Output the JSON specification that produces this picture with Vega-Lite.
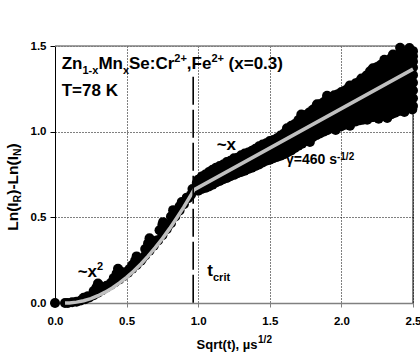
{
  "$schema": "https://vega.github.io/schema/vega-lite/v6.json",
  "width": 358,
  "height": 257,
  "autosize": {"type": "none"},
  "padding": {"left": 55, "top": 46, "right": 7, "bottom": 50},
  "background": "white",
  "config": {"view": {"stroke": null}, "font": "Liberation Sans"},
  "datasets": {
    "pts": [
      {"x":0,"y":0},{"x":0.07,"y":0},{"x":0.09,"y":0},{"x":0.12,"y":0.004},{"x":0.15,"y":0.008},{"x":0.18,"y":0.015},{"x":0.21,"y":0.022},{"x":0.24,"y":0.032},{"x":0.27,"y":0.045},{"x":0.3,"y":0.06},{"x":0.33,"y":0.075},{"x":0.36,"y":0.09},{"x":0.39,"y":0.105},{"x":0.42,"y":0.122},{"x":0.45,"y":0.138},{"x":0.48,"y":0.157},{"x":0.51,"y":0.177},{"x":0.54,"y":0.2},{"x":0.57,"y":0.222},{"x":0.6,"y":0.247},{"x":0.63,"y":0.277},{"x":0.66,"y":0.305},{"x":0.69,"y":0.335},{"x":0.72,"y":0.365},{"x":0.75,"y":0.395},{"x":0.78,"y":0.43},{"x":0.81,"y":0.465},{"x":0.84,"y":0.505},{"x":0.87,"y":0.54},{"x":0.9,"y":0.577},{"x":0.93,"y":0.612},{"x":0.95,"y":0.632},{"x":0.97,"y":0.655},
      {"x":0.2,"y":0.03},{"x":0.23,"y":0.04},
      {"x":0.27,"y":0.07},{"x":0.29,"y":0.092},{"x":0.31,"y":0.102},{"x":0.33,"y":0.09},{"x":0.3,"y":0.114},
      {"x":0.41,"y":0.145},{"x":0.43,"y":0.172},{"x":0.45,"y":0.188},{"x":0.47,"y":0.17},{"x":0.44,"y":0.2},
      {"x":0.54,"y":0.222},{"x":0.56,"y":0.248},{"x":0.58,"y":0.255},{"x":0.57,"y":0.272},
      {"x":0.63,"y":0.315},{"x":0.65,"y":0.348},{"x":0.67,"y":0.362},{"x":0.69,"y":0.345},{"x":0.66,"y":0.378},
      {"x":0.73,"y":0.425},{"x":0.75,"y":0.458},{"x":0.77,"y":0.458},{"x":0.755,"y":0.472},
      {"x":0.81,"y":0.505},{"x":0.83,"y":0.53},{"x":0.825,"y":0.542},
      {"x":0.87,"y":0.565},{"x":0.89,"y":0.58},{"x":0.885,"y":0.59},
      {"x":0.36,"y":0.1},{"x":0.39,"y":0.117},{"x":0.49,"y":0.18},{"x":0.52,"y":0.198},{"x":0.61,"y":0.26},{"x":0.71,"y":0.365},{"x":0.79,"y":0.45},{"x":0.86,"y":0.535},{"x":0.92,"y":0.615},{"x":0.96,"y":0.665},{"x":0.99,"y":0.7},
      {"x":1.0,"y":0.655},{"x":1.0,"y":0.69},{"x":1.0,"y":0.72},
      {"x":1.025,"y":0.665},{"x":1.025,"y":0.7},{"x":1.025,"y":0.738},
      {"x":1.05,"y":0.672},{"x":1.05,"y":0.712},{"x":1.05,"y":0.75},
      {"x":1.075,"y":0.68},{"x":1.075,"y":0.722},{"x":1.075,"y":0.765},
      {"x":1.1,"y":0.69},{"x":1.1,"y":0.733},{"x":1.1,"y":0.778},
      {"x":1.125,"y":0.703},{"x":1.125,"y":0.745},{"x":1.125,"y":0.79},
      {"x":1.15,"y":0.712},{"x":1.15,"y":0.755},{"x":1.15,"y":0.8},
      {"x":1.175,"y":0.722},{"x":1.175,"y":0.765},{"x":1.175,"y":0.808},
      {"x":1.2,"y":0.73},{"x":1.2,"y":0.775},{"x":1.2,"y":0.823},
      {"x":1.225,"y":0.74},{"x":1.225,"y":0.785},{"x":1.225,"y":0.83},
      {"x":1.25,"y":0.748},{"x":1.25,"y":0.795},{"x":1.25,"y":0.845},
      {"x":1.275,"y":0.757},{"x":1.275,"y":0.802},{"x":1.275,"y":0.848},
      {"x":1.3,"y":0.765},{"x":1.3,"y":0.81},{"x":1.3,"y":0.862},
      {"x":1.325,"y":0.772},{"x":1.325,"y":0.82},{"x":1.325,"y":0.872},
      {"x":1.35,"y":0.782},{"x":1.35,"y":0.83},{"x":1.35,"y":0.878},
      {"x":1.375,"y":0.79},{"x":1.375,"y":0.84},{"x":1.375,"y":0.888},
      {"x":1.4,"y":0.8},{"x":1.4,"y":0.85},{"x":1.4,"y":0.9},
      {"x":1.425,"y":0.808},{"x":1.425,"y":0.86},{"x":1.425,"y":0.915},
      {"x":1.45,"y":0.82},{"x":1.45,"y":0.87},{"x":1.45,"y":0.925},
      {"x":1.475,"y":0.83},{"x":1.475,"y":0.88},{"x":1.475,"y":0.932},
      {"x":1.5,"y":0.836},{"x":1.5,"y":0.876},{"x":1.5,"y":0.912},{"x":1.5,"y":0.945},
      {"x":1.525,"y":0.845},{"x":1.525,"y":0.885},{"x":1.525,"y":0.92},{"x":1.525,"y":0.952},
      {"x":1.55,"y":0.852},{"x":1.55,"y":0.895},{"x":1.55,"y":0.93},{"x":1.55,"y":0.962},
      {"x":1.575,"y":0.86},{"x":1.575,"y":0.9},{"x":1.575,"y":0.94},{"x":1.575,"y":0.978},
      {"x":1.6,"y":0.868},{"x":1.6,"y":0.91},{"x":1.6,"y":0.95},{"x":1.6,"y":0.99},
      {"x":1.625,"y":0.88},{"x":1.625,"y":0.92},{"x":1.625,"y":0.96},{"x":1.625,"y":1.008},
      {"x":1.65,"y":0.89},{"x":1.65,"y":0.93},{"x":1.65,"y":0.97},{"x":1.65,"y":1.0},{"x":1.65,"y":1.035},
      {"x":1.675,"y":0.905},{"x":1.675,"y":0.945},{"x":1.675,"y":0.985},{"x":1.675,"y":1.045},
      {"x":1.7,"y":0.918},{"x":1.7,"y":0.955},{"x":1.7,"y":0.995},{"x":1.7,"y":1.035},{"x":1.7,"y":1.068},
      {"x":1.725,"y":0.93},{"x":1.725,"y":0.97},{"x":1.725,"y":1.01},{"x":1.725,"y":1.05},{"x":1.725,"y":1.085},
      {"x":1.75,"y":0.945},{"x":1.75,"y":0.985},{"x":1.75,"y":1.025},{"x":1.75,"y":1.065},{"x":1.75,"y":1.098},
      {"x":1.775,"y":0.955},{"x":1.775,"y":0.995},{"x":1.775,"y":1.035},{"x":1.775,"y":1.075},{"x":1.775,"y":1.112},
      {"x":1.8,"y":0.968},{"x":1.8,"y":1.005},{"x":1.8,"y":1.045},{"x":1.8,"y":1.085},{"x":1.8,"y":1.128},
      {"x":1.825,"y":0.98},{"x":1.825,"y":1.02},{"x":1.825,"y":1.06},{"x":1.825,"y":1.1},{"x":1.825,"y":1.148},
      {"x":1.85,"y":0.99},{"x":1.85,"y":1.03},{"x":1.85,"y":1.07},{"x":1.85,"y":1.11},{"x":1.85,"y":1.16},
      {"x":1.875,"y":1.0},{"x":1.875,"y":1.04},{"x":1.875,"y":1.08},{"x":1.875,"y":1.12},{"x":1.875,"y":1.172},
      {"x":1.9,"y":1.008},{"x":1.9,"y":1.045},{"x":1.9,"y":1.085},{"x":1.9,"y":1.125},{"x":1.9,"y":1.16},{"x":1.9,"y":1.195},
      {"x":1.925,"y":1.018},{"x":1.925,"y":1.055},{"x":1.925,"y":1.095},{"x":1.925,"y":1.135},{"x":1.925,"y":1.17},{"x":1.925,"y":1.2},
      {"x":1.95,"y":1.022},{"x":1.95,"y":1.06},{"x":1.95,"y":1.1},{"x":1.95,"y":1.14},{"x":1.95,"y":1.18},{"x":1.95,"y":1.212},
      {"x":1.975,"y":1.027},{"x":1.975,"y":1.065},{"x":1.975,"y":1.105},{"x":1.975,"y":1.145},{"x":1.975,"y":1.185},{"x":1.975,"y":1.218},
      {"x":2.0,"y":1.032},{"x":2.0,"y":1.07},{"x":2.0,"y":1.11},{"x":2.0,"y":1.15},{"x":2.0,"y":1.19},{"x":2.0,"y":1.232},
      {"x":2.025,"y":1.04},{"x":2.025,"y":1.08},{"x":2.025,"y":1.12},{"x":2.025,"y":1.16},{"x":2.025,"y":1.2},{"x":2.025,"y":1.24},
      {"x":2.05,"y":1.046},{"x":2.05,"y":1.085},{"x":2.05,"y":1.125},{"x":2.05,"y":1.165},{"x":2.05,"y":1.21},{"x":2.05,"y":1.256},
      {"x":2.075,"y":1.055},{"x":2.075,"y":1.095},{"x":2.075,"y":1.135},{"x":2.075,"y":1.175},{"x":2.075,"y":1.22},{"x":2.075,"y":1.262},
      {"x":2.1,"y":1.06},{"x":2.1,"y":1.1},{"x":2.1,"y":1.14},{"x":2.1,"y":1.18},{"x":2.1,"y":1.22},{"x":2.1,"y":1.255},{"x":2.1,"y":1.282},
      {"x":2.125,"y":1.066},{"x":2.125,"y":1.105},{"x":2.125,"y":1.145},{"x":2.125,"y":1.185},{"x":2.125,"y":1.225},{"x":2.125,"y":1.262},{"x":2.125,"y":1.292},
      {"x":2.15,"y":1.07},{"x":2.15,"y":1.11},{"x":2.15,"y":1.15},{"x":2.15,"y":1.19},{"x":2.15,"y":1.23},{"x":2.15,"y":1.27},{"x":2.15,"y":1.305},
      {"x":2.175,"y":1.078},{"x":2.175,"y":1.12},{"x":2.175,"y":1.16},{"x":2.175,"y":1.2},{"x":2.175,"y":1.24},{"x":2.175,"y":1.28},{"x":2.175,"y":1.328},
      {"x":2.2,"y":1.082},{"x":2.2,"y":1.12},{"x":2.2,"y":1.16},{"x":2.2,"y":1.2},{"x":2.2,"y":1.24},{"x":2.2,"y":1.28},{"x":2.2,"y":1.32},{"x":2.2,"y":1.352},
      {"x":2.225,"y":1.085},{"x":2.225,"y":1.125},{"x":2.225,"y":1.165},{"x":2.225,"y":1.205},{"x":2.225,"y":1.245},{"x":2.225,"y":1.285},{"x":2.225,"y":1.325},{"x":2.225,"y":1.362},
      {"x":2.25,"y":1.088},{"x":2.25,"y":1.13},{"x":2.25,"y":1.17},{"x":2.25,"y":1.21},{"x":2.25,"y":1.25},{"x":2.25,"y":1.29},{"x":2.25,"y":1.335},{"x":2.25,"y":1.378},
      {"x":2.275,"y":1.09},{"x":2.275,"y":1.13},{"x":2.275,"y":1.17},{"x":2.275,"y":1.21},{"x":2.275,"y":1.255},{"x":2.275,"y":1.3},{"x":2.275,"y":1.345},{"x":2.275,"y":1.39},
      {"x":2.3,"y":1.092},{"x":2.3,"y":1.135},{"x":2.3,"y":1.175},{"x":2.3,"y":1.215},{"x":2.3,"y":1.26},{"x":2.3,"y":1.305},{"x":2.3,"y":1.355},{"x":2.3,"y":1.402},
      {"x":2.325,"y":1.097},{"x":2.325,"y":1.14},{"x":2.325,"y":1.18},{"x":2.325,"y":1.225},{"x":2.325,"y":1.27},{"x":2.325,"y":1.315},{"x":2.325,"y":1.365},{"x":2.325,"y":1.415},
      {"x":2.35,"y":1.102},{"x":2.35,"y":1.145},{"x":2.35,"y":1.19},{"x":2.35,"y":1.235},{"x":2.35,"y":1.28},{"x":2.35,"y":1.325},{"x":2.35,"y":1.375},{"x":2.35,"y":1.432},
      {"x":2.375,"y":1.11},{"x":2.375,"y":1.155},{"x":2.375,"y":1.2},{"x":2.375,"y":1.245},{"x":2.375,"y":1.29},{"x":2.375,"y":1.335},{"x":2.375,"y":1.385},{"x":2.375,"y":1.44},
      {"x":2.4,"y":1.12},{"x":2.4,"y":1.165},{"x":2.4,"y":1.21},{"x":2.4,"y":1.255},{"x":2.4,"y":1.3},{"x":2.4,"y":1.345},{"x":2.4,"y":1.395},{"x":2.4,"y":1.452},
      {"x":2.425,"y":1.125},{"x":2.425,"y":1.17},{"x":2.425,"y":1.215},{"x":2.425,"y":1.26},{"x":2.425,"y":1.305},{"x":2.425,"y":1.35},{"x":2.425,"y":1.4},{"x":2.425,"y":1.448},
      {"x":2.45,"y":1.132},{"x":2.45,"y":1.175},{"x":2.45,"y":1.22},{"x":2.45,"y":1.265},{"x":2.45,"y":1.31},{"x":2.45,"y":1.355},{"x":2.45,"y":1.405},{"x":2.45,"y":1.455},
      {"x":2.475,"y":1.14},{"x":2.475,"y":1.185},{"x":2.475,"y":1.23},{"x":2.475,"y":1.275},{"x":2.475,"y":1.32},{"x":2.475,"y":1.365},{"x":2.475,"y":1.405},{"x":2.475,"y":1.445},
      {"x":2.5,"y":1.15},{"x":2.5,"y":1.195},{"x":2.5,"y":1.24},{"x":2.5,"y":1.285},{"x":2.5,"y":1.33},{"x":2.5,"y":1.375},{"x":2.5,"y":1.41},{"x":2.5,"y":1.44},
      {"x":2.41,"y":1.49},{"x":2.475,"y":1.488},{"x":2.5,"y":1.47},{"x":2.495,"y":1.13},{"x":2.18,"y":1.07},
      {"x":1.62,"y":1.02},{"x":1.72,"y":1.1},{"x":1.83,"y":1.16},{"x":1.9,"y":1.21},{"x":2.06,"y":1.27},{"x":2.14,"y":1.31},{"x":2.22,"y":1.37},{"x":2.3,"y":1.42},{"x":2.36,"y":1.45},
      {"x":1.78,"y":0.94},{"x":1.96,"y":1.01},{"x":2.06,"y":1.035},{"x":2.26,"y":1.075},{"x":2.32,"y":1.08},{"x":2.44,"y":1.115}
    ],
    "fit": [
      {"x":0.07,"y":0},{"x":0.1,"y":0.0006},{"x":0.15,"y":0.005},{"x":0.2,"y":0.0134},{"x":0.25,"y":0.0259},{"x":0.3,"y":0.0426},{"x":0.35,"y":0.0633},{"x":0.4,"y":0.0881},{"x":0.45,"y":0.117},{"x":0.5,"y":0.15},{"x":0.55,"y":0.187},{"x":0.6,"y":0.228},{"x":0.65,"y":0.274},{"x":0.7,"y":0.323},{"x":0.75,"y":0.376},{"x":0.8,"y":0.434},{"x":0.85,"y":0.496},{"x":0.9,"y":0.561},{"x":0.95,"y":0.631},{"x":0.97,"y":0.66},{"x":2.5,"y":1.365}
    ],
    "txt": [
      {"g":"m","x":0.0468,"y":1.364,"t":"Zn"},
      {"g":"sub","x":0.192,"y":1.364,"t":"1-x"},
      {"g":"m","x":0.3031,"y":1.364,"t":"Mn"},
      {"g":"sub","x":0.4742,"y":1.364,"t":"x"},
      {"g":"m","x":0.5168,"y":1.364,"t":"Se:Cr"},
      {"g":"sup","x":0.8331,"y":1.364,"t":"2+"},
      {"g":"m","x":0.9204,"y":1.364,"t":",Fe"},
      {"g":"sup","x":1.0922,"y":1.364,"t":"2+"},
      {"g":"m","x":1.2123,"y":1.364,"t":"(x=0.3)"},
      {"g":"m","x":0.0468,"y":1.206,"t":"T=78 K"},
      {"g":"m","x":0.1585,"y":0.154,"t":"~x"},
      {"g":"sup","x":0.294,"y":0.154,"t":"2"},
      {"g":"m","x":1.129,"y":0.893,"t":"~x"},
      {"g":"m","x":1.064,"y":0.158,"t":"t"},
      {"g":"sub","x":1.1034,"y":0.158,"t":"crit"},
      {"g":"gam","x":1.613,"y":0.811,"t":"γ=460 s"},
      {"g":"gamsup","x":1.969,"y":0.811,"t":"-1/2"},
      {"g":"xt","x":0.989,"y":-0.2685,"t":"Sqrt(t), µs"},
      {"g":"xtsup","x":1.418,"y":-0.2685,"t":"1/2"},
      {"g":"yt","x":-0.258,"y":0.4215,"t":"Ln(I"},
      {"g":"ytsub","x":-0.258,"y":0.587,"t":"R"},
      {"g":"yt","x":-0.258,"y":0.6316,"t":")-Ln(I"},
      {"g":"ytsub","x":-0.258,"y":0.858,"t":"N"},
      {"g":"yt","x":-0.258,"y":0.902,"t":")"}
    ]
  },
  "layer": [
    {
      "data": {"values": [{}]},
      "mark": {"type": "rule", "color": "#808080", "strokeWidth": 1.5},
      "encoding": {"y": {"datum": 1.5, "type": "quantitative", "scale": {"domain": [0, 1.5], "nice": false, "zero": false}}}
    },
    {
      "data": {"values": [{}]},
      "mark": {"type": "rule", "color": "black", "strokeWidth": 1},
      "encoding": {"x": {"datum": 2.5, "type": "quantitative", "scale": {"domain": [0, 2.5], "nice": false, "zero": false}}}
    },
    {
      "data": {"name": "pts"},
      "mark": {"type": "circle", "size": 100, "color": "black", "opacity": 1},
      "encoding": {
        "x": {"field": "x", "type": "quantitative", "scale": {"domain": [0, 2.5], "nice": false, "zero": false},
          "axis": {"values": [0, 0.5, 1, 1.5, 2, 2.5], "format": ".1f", "title": null, "grid": true, "gridColor": "black", "gridDash": [1, 2], "gridWidth": 1, "gridOpacity": 1, "domainColor": "#808080", "domainWidth": 1.5, "tickColor": "#808080", "tickSize": 4, "labelFont": "Liberation Sans", "labelFontWeight": "bold", "labelFontSize": 11.5, "labelColor": "black", "labelPadding": 8, "labelFlush": false}},
        "y": {"field": "y", "type": "quantitative", "scale": {"domain": [0, 1.5], "nice": false, "zero": false},
          "axis": {"values": [0, 0.5, 1, 1.5], "format": ".1f", "title": null, "grid": true, "gridColor": "black", "gridDash": [1, 2], "gridWidth": 1, "gridOpacity": 1, "domainColor": "black", "domainWidth": 1, "tickColor": "black", "tickSize": 5, "labelFont": "Liberation Sans", "labelFontWeight": "bold", "labelFontSize": 11.5, "labelColor": "black", "labelPadding": 4}}
      }
    },
    {
      "data": {"name": "fit"},
      "mark": {"type": "line", "color": "#c0c0c0", "strokeWidth": 3.5},
      "encoding": {
        "x": {"field": "x", "type": "quantitative"},
        "y": {"field": "y", "type": "quantitative"}
      }
    },
    {
      "data": {"values": [{}]},
      "mark": {"type": "rule", "color": "black", "strokeWidth": 1.6, "strokeDash": [28, 5]},
      "encoding": {
        "x": {"datum": 0.965, "type": "quantitative"},
        "y": {"datum": 1.32, "type": "quantitative"},
        "y2": {"datum": 0}
      }
    },
    {
      "data": {"name": "txt"},
      "transform": [{"filter": "datum.g == 'm'"}],
      "mark": {"type": "text", "align": "left", "baseline": "alphabetic", "font": "Liberation Sans", "fontWeight": "bold", "fontSize": 17, "color": "black"},
      "encoding": {
        "x": {"field": "x", "type": "quantitative"},
        "y": {"field": "y", "type": "quantitative"},
        "text": {"field": "t"}
      }
    },
    {
      "data": {"name": "txt"},
      "transform": [{"filter": "datum.g == 'sub'"}],
      "mark": {"type": "text", "align": "left", "baseline": "alphabetic", "font": "Liberation Sans", "fontWeight": "bold", "fontSize": 11, "dy": 5, "color": "black"},
      "encoding": {
        "x": {"field": "x", "type": "quantitative"},
        "y": {"field": "y", "type": "quantitative"},
        "text": {"field": "t"}
      }
    },
    {
      "data": {"name": "txt"},
      "transform": [{"filter": "datum.g == 'sup'"}],
      "mark": {"type": "text", "align": "left", "baseline": "alphabetic", "font": "Liberation Sans", "fontWeight": "bold", "fontSize": 11, "dy": -7, "color": "black"},
      "encoding": {
        "x": {"field": "x", "type": "quantitative"},
        "y": {"field": "y", "type": "quantitative"},
        "text": {"field": "t"}
      }
    },
    {
      "data": {"name": "txt"},
      "transform": [{"filter": "datum.g == 'gam'"}],
      "mark": {"type": "text", "align": "left", "baseline": "alphabetic", "font": "Liberation Sans", "fontWeight": "bold", "fontSize": 14, "color": "black"},
      "encoding": {
        "x": {"field": "x", "type": "quantitative"},
        "y": {"field": "y", "type": "quantitative"},
        "text": {"field": "t"}
      }
    },
    {
      "data": {"name": "txt"},
      "transform": [{"filter": "datum.g == 'gamsup'"}],
      "mark": {"type": "text", "align": "left", "baseline": "alphabetic", "font": "Liberation Sans", "fontWeight": "bold", "fontSize": 10, "dy": -4, "color": "black"},
      "encoding": {
        "x": {"field": "x", "type": "quantitative"},
        "y": {"field": "y", "type": "quantitative"},
        "text": {"field": "t"}
      }
    },
    {
      "data": {"name": "txt"},
      "transform": [{"filter": "datum.g == 'xt'"}],
      "mark": {"type": "text", "align": "left", "baseline": "alphabetic", "font": "Liberation Sans", "fontWeight": "bold", "fontSize": 13, "color": "black"},
      "encoding": {
        "x": {"field": "x", "type": "quantitative"},
        "y": {"field": "y", "type": "quantitative"},
        "text": {"field": "t"}
      }
    },
    {
      "data": {"name": "txt"},
      "transform": [{"filter": "datum.g == 'xtsup'"}],
      "mark": {"type": "text", "align": "left", "baseline": "alphabetic", "font": "Liberation Sans", "fontWeight": "bold", "fontSize": 10, "dy": -6, "color": "black"},
      "encoding": {
        "x": {"field": "x", "type": "quantitative"},
        "y": {"field": "y", "type": "quantitative"},
        "text": {"field": "t"}
      }
    },
    {
      "data": {"name": "txt"},
      "transform": [{"filter": "datum.g == 'yt'"}],
      "mark": {"type": "text", "align": "left", "baseline": "alphabetic", "angle": 270, "font": "Liberation Sans", "fontWeight": "bold", "fontSize": 15.5, "color": "black"},
      "encoding": {
        "x": {"field": "x", "type": "quantitative"},
        "y": {"field": "y", "type": "quantitative"},
        "text": {"field": "t"}
      }
    },
    {
      "data": {"name": "txt"},
      "transform": [{"filter": "datum.g == 'ytsub'"}],
      "mark": {"type": "text", "align": "left", "baseline": "alphabetic", "angle": 270, "font": "Liberation Sans", "fontWeight": "bold", "fontSize": 10.5, "dy": 3, "color": "black"},
      "encoding": {
        "x": {"field": "x", "type": "quantitative"},
        "y": {"field": "y", "type": "quantitative"},
        "text": {"field": "t"}
      }
    }
  ]
}
